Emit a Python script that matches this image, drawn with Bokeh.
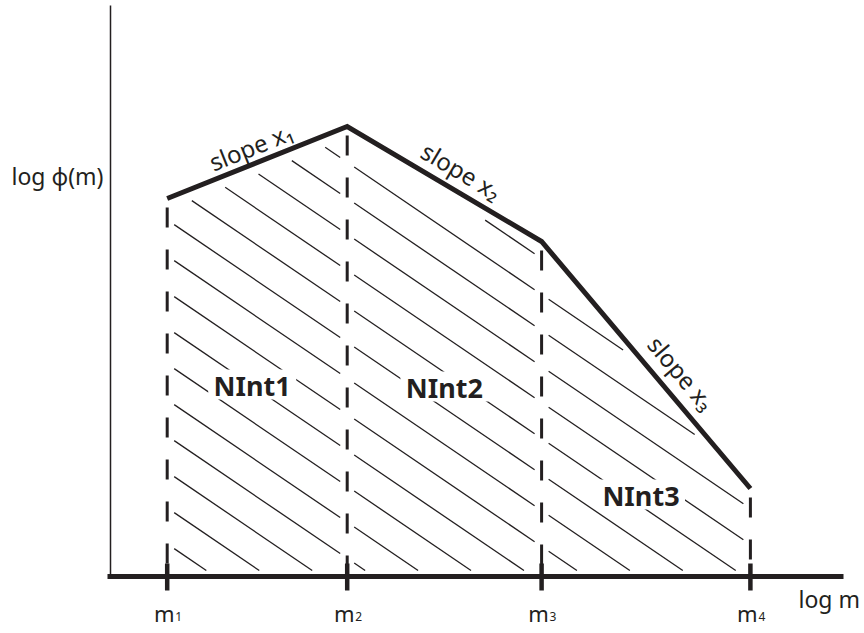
import math
from bokeh.plotting import figure
from bokeh.models import Range1d
from bokeh.core.properties import value
from bokeh.embed import file_html
from bokeh.resources import INLINE

# ---------------- data ----------------
log_m = [1.0, 2.0, 3.08, 4.24]          # m1 .. m4 on the log m axis
log_phi = [3.78, 4.50, 3.35, 0.88]       # log phi(m) at m1 .. m4
tick_labels = ["m1", "m2", "m3", "m4"]
slope_labels = ["slope x\u2081", "slope x\u2082", "slope x\u2083"]
region_labels = ["NInt1", "NInt2", "NInt3"]
x_title = "log m"
y_title = "log \u03d5(m)"

# ---------------- layout / style ----------------
INK = "#231f20"
FONT = "Noto Sans"
W, H = 864, 633
PX_X, PX_Y = 180.0, 100.0                # pixels per data unit
AXIS_PX_X, AXIS_PX_Y = 110, 576          # where the axes cross (canvas px)
MID = 0.33                               # text middle above baseline (em)
x_start = log_m[0] - 166.7 / PX_X
x_range = Range1d(x_start, x_start + W / PX_X)
y_range = Range1d(-(H - AXIS_PX_Y) / PX_Y, AXIS_PX_Y / PX_Y)


def px2x(px):
    return x_start + px / PX_X


def px2y(py):
    return (AXIS_PX_Y - py) / PX_Y


def mid_y(baseline_px, size):
    return px2y(baseline_px - MID * size)


p = figure(width=W, height=H, x_range=x_range, y_range=y_range,
           title=None, output_backend="svg", toolbar_location=None,
           x_axis_location=None, y_axis_location=None,
           min_border=0, min_border_left=0, min_border_right=0,
           min_border_top=0, min_border_bottom=0)
p.outline_line_color = None
p.grid.visible = False
p.background_fill_color = "white"
p.border_fill_color = "white"

# ---------------- axes ----------------
y_axis_x = px2x(AXIS_PX_X)
p.segment(x0=[y_axis_x], y0=[0], x1=[y_axis_x], y1=[px2y(5)],
          line_width=1.5, line_color=INK)
p.segment(x0=[px2x(107)], y0=[0], x1=[px2x(843)], y1=[0],
          line_width=5, line_color=INK)
p.segment(x0=log_m, y0=[13 / PX_Y] * len(log_m), x1=log_m,
          y1=[-14 / PX_Y] * len(log_m), line_width=4.5, line_color=INK)

# ---------------- hatching (computed from the data) ----------------
k = 0.68 * PX_X / PX_Y        # hatch slope in data units (screen slope 0.68)
step = 36 / PX_Y              # vertical spacing of hatch lines
phase = 0.11
gx, gyt, gyb = 7 / PX_X, 12 / PX_Y, 6 / PX_Y
hx, hy = [], []
cmax = max(log_phi) + k * log_m[-1] + step
n = int(cmax / step) + 2
for i in range(len(log_m) - 1):
    xa, xb = log_m[i], log_m[i + 1]
    ya, yb = log_phi[i], log_phi[i + 1]
    s = (yb - ya) / (xb - xa)
    for j in range(n):
        c = j * step + phase
        lo, hi = xa + gx, xb - gx
        hi = min(hi, (c - gyb) / k)
        a = s + k
        b = c - ya + s * xa + gyt
        if a > 1e-9:
            lo = max(lo, b / a)
        elif a < -1e-9:
            hi = min(hi, b / a)
        if hi - lo > 4 / PX_X:
            hx.append([lo, hi])
            hy.append([c - k * lo, c - k * hi])
p.multi_line(hx, hy, line_width=1.3, line_color=INK)

# dashed verticals (first dash starts a little below the curve)
p.segment(x0=log_m, y0=[v - 9 / PX_Y for v in log_phi], x1=log_m,
          y1=[0] * len(log_m), line_width=3, line_color=INK,
          line_dash="20 22")

# the broken power law
p.line(log_m, log_phi, line_width=5, line_color=INK, line_join="miter")

# ---------------- slope labels ----------------
along = [0, 8, 29]
normal = [17, 20, 22]
sx, sy, sa = [], [], []
for i in range(len(log_m) - 1):
    xa, xb = log_m[i], log_m[i + 1]
    ya, yb = log_phi[i], log_phi[i + 1]
    th = math.atan2((yb - ya) * PX_Y, (xb - xa) * PX_X)
    ox = along[i] * math.cos(th) - normal[i] * math.sin(th)
    oy = along[i] * math.sin(th) + normal[i] * math.cos(th)
    sx.append((xa + xb) / 2 + ox / PX_X)
    sy.append((ya + yb) / 2 + oy / PX_Y)
    sa.append(th)
p.text(x=sx, y=sy, text=slope_labels, angle=sa, text_align="center",
       text_baseline="middle", text_font=value(FONT), text_font_size="24px",
       text_color=INK)

# ---------------- region labels ----------------
region_dx = [-5, 0, -5]
region_baseline_px = [394, 396, 504]
rx = [(log_m[i] + log_m[i + 1]) / 2 + region_dx[i] / PX_X for i in range(3)]
# white knock-out behind the labels, as in the original
p.rect(x=rx, y=[px2y(v - 10) for v in region_baseline_px], width=88 / PX_X,
       height=30 / PX_Y, fill_color="white", line_color=None)
p.text(x=rx, y=[mid_y(v, 27) for v in region_baseline_px], text=region_labels,
       text_align="center", text_baseline="middle", text_font=value(FONT),
       text_font_size="27px", text_font_style="bold", text_color=INK)

# ---------------- tick labels m1..m4 ----------------
p.text(x=log_m, y=[mid_y(620, 22)] * len(log_m),
       text=[t[0] for t in tick_labels], x_offset=-3,
       text_align="center", text_baseline="middle",
       text_font=value(FONT), text_font_size="22px", text_color=INK)
p.text(x=log_m, y=[mid_y(620, 12)] * len(log_m),
       text=[t[1:] for t in tick_labels], x_offset=8,
       text_align="left", text_baseline="middle",
       text_font=value(FONT), text_font_size="12px", text_color=INK)

# ---------------- axis titles ----------------
p.text(x=[px2x(798)], y=[mid_y(606, 23)], text=[x_title], text_align="left",
       text_baseline="middle", text_font=value(FONT),
       text_font_size="23px", text_color=INK)
p.text(x=[px2x(11)], y=[mid_y(183, 23)], text=[y_title], text_align="left",
       text_baseline="middle", text_font=value(FONT),
       text_font_size="23px", text_color=INK)

open("out.html", "w").write(file_html(p, INLINE))
